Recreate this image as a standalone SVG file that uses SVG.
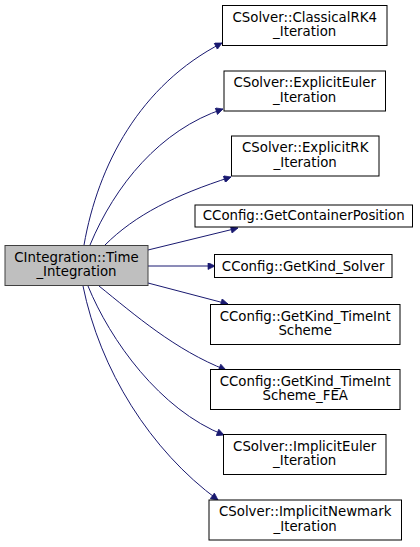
<svg xmlns="http://www.w3.org/2000/svg" width="420" height="547" viewBox="0 0 420 547">
<style>
.n rect{fill:#fff;stroke:#000;stroke-width:1}
.m rect{fill:#bfbfbf;stroke:#404040;stroke-width:1}
text{font-family:"DejaVu Sans",sans-serif;font-size:13.33px;text-anchor:middle;fill:#000}
.e path{fill:none;stroke:#191970;stroke-width:1}
</style>
<defs>
<marker id="a" viewBox="0 0 10 10" refX="10" refY="5" markerWidth="10" markerHeight="7" markerUnits="userSpaceOnUse" orient="auto">
<path d="M0,0 L10,5 L0,10 z" fill="#191970" stroke="#191970"/>
</marker>
</defs>
<g class="e">
<path d="M84,245 C98,165 140,85 222,43" marker-end="url(#a)"/>
<path d="M90,245 C115,185 160,130 223,109" marker-end="url(#a)"/>
<path d="M105,245 C135,215 175,195 231,177" marker-end="url(#a)"/>
<path d="M148,250 L238,228" marker-end="url(#a)"/>
<path d="M148,266 L215,266" marker-end="url(#a)"/>
<path d="M148,283 L228,304" marker-end="url(#a)"/>
<path d="M99,286 C135,315 175,350 226,370" marker-end="url(#a)"/>
<path d="M88,286 C110,340 160,410 224,435" marker-end="url(#a)"/>
<path d="M83,286 C100,370 150,450 218,500" marker-end="url(#a)"/>
</g>
<g id="main" class="m"><rect x="5" y="245.5" width="143" height="40"/><text x="76.5" y="261.5">CIntegration::Time</text><text x="76.5" y="276.2">_Integration</text></g>
<g id="n1" class="n"><rect x="222.5" y="5.5" width="164.5" height="40"/><text x="304.7" y="21.5">CSolver::ClassicalRK4</text><text x="304.7" y="36.2">_Iteration</text></g>
<g id="n2" class="n"><rect x="224" y="71" width="161.5" height="40"/><text x="304.7" y="87">CSolver::ExplicitEuler</text><text x="304.7" y="101.7">_Iteration</text></g>
<g id="n3" class="n"><rect x="231.5" y="136" width="147.5" height="40"/><text x="305.2" y="152">CSolver::ExplicitRK</text><text x="305.2" y="166.7">_Iteration</text></g>
<g id="n4" class="n"><rect x="195" y="205" width="217.5" height="22"/><text x="303.7" y="220">CConfig::GetContainerPosition</text></g>
<g id="n5" class="n"><rect x="214.5" y="254.5" width="177.5" height="23"/><text x="303.2" y="270.5">CConfig::GetKind_Solver</text></g>
<g id="n6" class="n"><rect x="210.5" y="304.5" width="189.5" height="40"/><text x="305.2" y="320.5">CConfig::GetKind_TimeInt</text><text x="305.2" y="335.2">Scheme</text></g>
<g id="n7" class="n"><rect x="210.5" y="369.5" width="189.5" height="40"/><text x="305.2" y="385.5">CConfig::GetKind_TimeInt</text><text x="305.2" y="400.2">Scheme_FEA</text></g>
<g id="n8" class="n"><rect x="223.5" y="434.5" width="162.5" height="40"/><text x="304.7" y="450.5">CSolver::ImplicitEuler</text><text x="304.7" y="465.2">_Iteration</text></g>
<g id="n9" class="n"><rect x="209" y="500" width="192.5" height="40"/><text x="305.2" y="516">CSolver::ImplicitNewmark</text><text x="305.2" y="530.7">_Iteration</text></g>
</svg>
